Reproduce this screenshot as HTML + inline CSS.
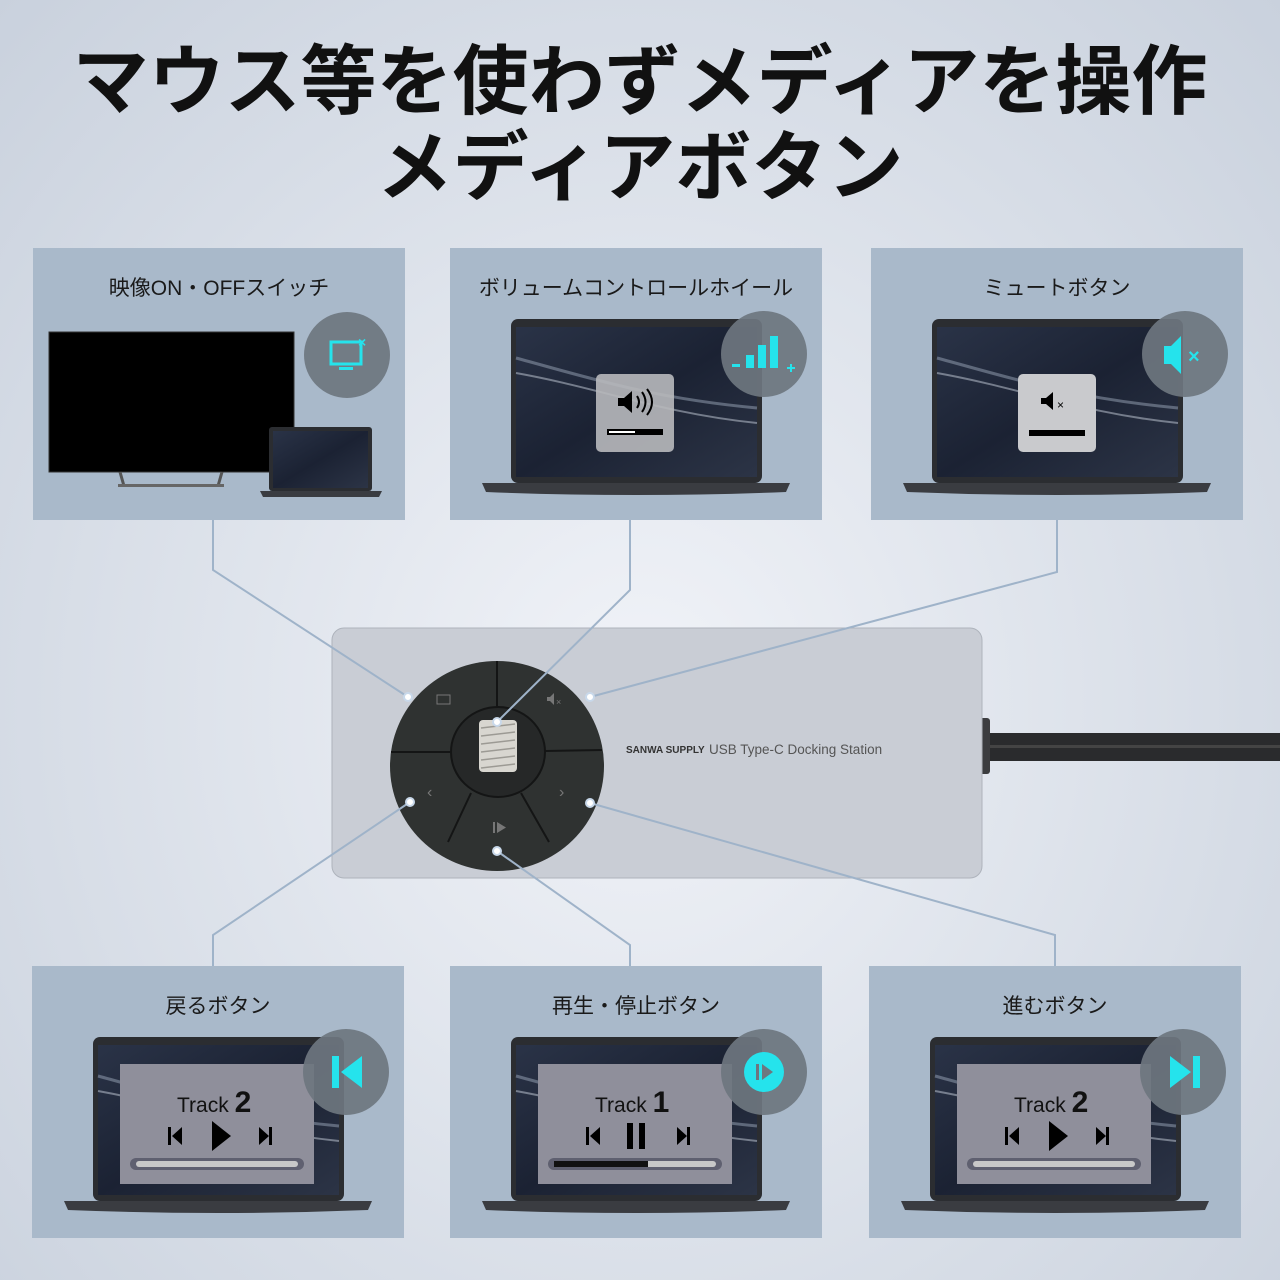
<!DOCTYPE html>
<html><head><meta charset="utf-8"><style>
html,body{margin:0;padding:0}
body{width:1280px;height:1280px;overflow:hidden;background:radial-gradient(ellipse at 50% 55%,#f1f3f8 0%,#dfe4ec 45%,#c9d1dd 100%);font-family:"Liberation Sans","Noto Sans CJK JP",sans-serif}
</style></head><body>
<svg width="1280" height="1280" viewBox="0 0 1280 1280" xmlns="http://www.w3.org/2000/svg" style="position:absolute;left:0;top:0">
<defs>
<linearGradient id="scr" x1="0" y1="0" x2="1" y2="1">
<stop offset="0" stop-color="#2a3347"/><stop offset="0.5" stop-color="#1b2233"/><stop offset="1" stop-color="#2c3446"/></linearGradient>
<g id="lap">
<rect x="61" y="71" width="251" height="164" rx="7" fill="#2b2d31"/>
<rect x="66" y="79" width="241" height="150" fill="url(#scr)"/>
<path d="M66 110 C140 130 200 150 307 160" stroke="#9aa6b8" stroke-width="3" fill="none" opacity="0.5"/>
<path d="M66 125 C150 140 210 165 307 175" stroke="#c8d0dc" stroke-width="2" fill="none" opacity="0.5"/>
<path d="M32 235 L340 235 L336 244 Q186 250 36 244 Z" fill="#3a3c41"/>
</g>
<g id="cir"><circle cx="314" cy="106" r="43" fill="#6e767f" opacity="0.92"/></g>
</defs>
<text x="640" y="108" text-anchor="middle" font-size="76" font-weight="bold" fill="#111">マウス等を使わずメディアを操作</text>
<text x="640" y="194" text-anchor="middle" font-size="76" font-weight="bold" fill="#111">メディアボタン</text>

<!-- panels -->
<g fill="#a9b9ca">
<rect x="33" y="248" width="372" height="272"/><rect x="450" y="248" width="372" height="272"/><rect x="871" y="248" width="372" height="272"/>
<rect x="32" y="966" width="372" height="272"/><rect x="450" y="966" width="372" height="272"/><rect x="869" y="966" width="372" height="272"/>
</g>
<g font-size="21" fill="#1a1a1a" text-anchor="middle">
<text x="219" y="295">映像ON・OFFスイッチ</text>
<text x="636" y="295">ボリュームコントロールホイール</text>
<text x="1057" y="295">ミュートボタン</text>
<text x="218" y="1013">戻るボタン</text>
<text x="636" y="1013">再生・停止ボタン</text>
<text x="1055" y="1013">進むボタン</text>
</g>

<!-- panel 1: TV -->
<rect x="49" y="332" width="245" height="140" fill="#000" stroke="#333"/>
<path d="M120 472 L124 486 M222 472 L218 486" stroke="#555" stroke-width="3"/>
<rect x="118" y="484" width="106" height="3" fill="#666"/>
<rect x="269" y="427" width="103" height="64" rx="3" fill="#2b2d31"/>
<rect x="273" y="431" width="95" height="57" fill="url(#scr)"/>
<path d="M260 491 L382 491 L379 497 L263 497Z" fill="#3a3c41"/>
<circle cx="347" cy="355" r="43" fill="#6e767f" opacity="0.92"/>
<rect x="331" y="342" width="30" height="22" fill="none" stroke="#25e3ec" stroke-width="3"/>
<rect x="339" y="367" width="14" height="3" fill="#25e3ec"/>
<text x="358" y="347" font-size="14" fill="#25e3ec" font-weight="bold">×</text>

<!-- panel 2 -->
<use href="#lap" x="450" y="248"/>
<rect x="596" y="374" width="78" height="78" rx="5" fill="#b8b9bd" opacity="0.9"/>
<path d="M618 398 h6 l8 -7 v22 l-8 -7 h-6z" fill="#000"/>
<path d="M637 396 q4 6 0 12 M642 392 q7 10 0 20 M647 389 q10 13 0 26" stroke="#000" stroke-width="2" fill="none"/>
<rect x="607" y="429" width="56" height="6" fill="#000"/><rect x="609" y="431" width="26" height="2" fill="#fff"/>
<use href="#cir" x="450" y="248"/>
<g fill="#25e3ec"><rect x="732" y="364" width="8" height="3"/><rect x="746" y="355" width="8" height="13"/><rect x="758" y="345" width="8" height="23"/><rect x="770" y="336" width="8" height="32"/><rect x="787" y="367" width="8" height="2"/><rect x="790" y="364" width="2" height="8"/></g>

<!-- panel 3 -->
<use href="#lap" x="871" y="248"/>
<rect x="1018" y="374" width="78" height="78" rx="5" fill="#c9cacd"/>
<path d="M1041 398 h5 l7 -6 v18 l-7 -6 h-5z" fill="#000"/>
<text x="1057" y="409" font-size="12" fill="#000">×</text>
<rect x="1029" y="430" width="56" height="6" fill="#000"/>
<use href="#cir" x="871" y="248"/>
<path d="M1164 346 h7 l10 -10 v38 l-10 -10 h-7z" fill="#25e3ec"/>
<text x="1188" y="363" font-size="20" fill="#25e3ec" font-weight="bold">×</text>

<!-- bottom panels -->
<use href="#lap" x="32" y="966"/>
<rect x="120" y="1064" width="194" height="120" fill="#8f8f9b"/>
<rect x="130" y="1158" width="174" height="12" rx="6" fill="#5f6070"/><rect x="136" y="1161" width="162" height="6" rx="3" fill="#c8c8c8"/>
<path d="M168 1127 v18 h3 v-18z M172 1136 l10 -9 v18z" fill="#000"/>
<path d="M212 1121 l19 15 l-19 15z" fill="#000"/>
<path d="M259 1127 l10 9 l-10 9z M269 1127 v18 h3 v-18z" fill="#000"/>
<text x="177" y="1112" font-size="21" fill="#111">Track <tspan font-size="30" font-weight="bold">2</tspan></text>
<use href="#cir" x="32" y="966"/>
<rect x="332" y="1056" width="7" height="32" fill="#25e3ec"/><path d="M362 1056 v32 l-21 -16z" fill="#25e3ec"/>

<use href="#lap" x="450" y="966"/>
<rect x="538" y="1064" width="194" height="120" fill="#8f8f9b"/>
<rect x="548" y="1158" width="174" height="12" rx="6" fill="#5f6070"/><rect x="554" y="1161" width="162" height="6" rx="3" fill="#c8c8c8"/><rect x="554" y="1161" width="94" height="6" fill="#111"/>
<path d="M586 1127 v18 h3 v-18z M590 1136 l10 -9 v18z" fill="#000"/>
<rect x="627" y="1123" width="6" height="26" fill="#000"/><rect x="639" y="1123" width="6" height="26" fill="#000"/>
<path d="M677 1127 l10 9 l-10 9z M687 1127 v18 h3 v-18z" fill="#000"/>
<text x="595" y="1112" font-size="21" fill="#111">Track <tspan font-size="30" font-weight="bold">1</tspan></text>
<use href="#cir" x="450" y="966"/>
<circle cx="764" cy="1072" r="20" fill="#25e3ec"/><rect x="756" y="1064" width="3" height="16" fill="#6e767f"/><path d="M762 1064 l11 8 l-11 8z" fill="#6e767f"/>

<use href="#lap" x="869" y="966"/>
<rect x="957" y="1064" width="194" height="120" fill="#8f8f9b"/>
<rect x="967" y="1158" width="174" height="12" rx="6" fill="#5f6070"/><rect x="973" y="1161" width="162" height="6" rx="3" fill="#c8c8c8"/>
<path d="M1005 1127 v18 h3 v-18z M1009 1136 l10 -9 v18z" fill="#000"/>
<path d="M1049 1121 l19 15 l-19 15z" fill="#000"/>
<path d="M1096 1127 l10 9 l-10 9z M1106 1127 v18 h3 v-18z" fill="#000"/>
<text x="1014" y="1112" font-size="21" fill="#111">Track <tspan font-size="30" font-weight="bold">2</tspan></text>
<use href="#cir" x="869" y="966"/>
<path d="M1170 1056 v32 l21 -16z" fill="#25e3ec"/><rect x="1193" y="1056" width="7" height="32" fill="#25e3ec"/>

<!-- cable -->
<rect x="975" y="733" width="310" height="28" fill="#2a2b2d"/>
<rect x="975" y="745" width="310" height="3" fill="#444"/>
<rect x="978" y="718" width="12" height="56" rx="3" fill="#3c3d40"/>
<!-- dock -->
<rect x="332" y="628" width="650" height="250" rx="12" fill="#c9cdd5" stroke="#aeb3bc"/>
<ellipse cx="497" cy="766" rx="107" ry="105" fill="#2f3231"/>
<g stroke="#141515" stroke-width="2" fill="none">
<line x1="497" y1="661" x2="497" y2="716"/>
<path d="M391 752 L450 752 M545 751 L602 750 M471 793 L448 842 M521 793 L549 842"/>
</g>
<ellipse cx="498" cy="752" rx="47" ry="45" fill="#262828" stroke="#141515" stroke-width="2"/>
<rect x="479" y="720" width="38" height="52" rx="4" fill="#d8d6d0"/>
<g stroke="#9c9a94" stroke-width="1.5"><line x1="481" y1="728" x2="515" y2="724"/><line x1="481" y1="736" x2="515" y2="732"/><line x1="481" y1="744" x2="515" y2="740"/><line x1="481" y1="752" x2="515" y2="748"/><line x1="481" y1="760" x2="515" y2="756"/><line x1="481" y1="768" x2="515" y2="764"/></g>
<g fill="#777"><rect x="437" y="695" width="13" height="9" fill="none" stroke="#777"/><path d="M547 697 h3 l4 -4 v12 l-4 -4 h-3z"/><text x="556" y="705" font-size="9">×</text>
<text x="427" y="797" font-size="16">‹</text><text x="559" y="797" font-size="16">›</text>
<rect x="493" y="822" width="2" height="11"/><path d="M497 822 l9 5.5 l-9 5.5z"/></g>
<text x="626" y="753" font-size="10" fill="#333" font-weight="bold">SANWA SUPPLY</text>
<text x="709" y="754" font-size="13.5" fill="#555">USB Type-C Docking Station</text>

<g stroke="#9fb3c9" stroke-width="2" fill="none">
<polyline points="213,520 213,570 408,697"/>
<polyline points="630,520 630,590 497,722"/>
<polyline points="1057,520 1057,572 590,697"/>
<polyline points="213,966 213,935 410,802"/>
<polyline points="630,966 630,945 497,851"/>
<polyline points="1055,966 1055,935 590,803"/>
</g>
<g fill="#fff" stroke="#c8d8ea" stroke-width="2"><circle cx="408" cy="697" r="4"/><circle cx="497" cy="722" r="4"/><circle cx="590" cy="697" r="4"/><circle cx="410" cy="802" r="4"/><circle cx="497" cy="851" r="4"/><circle cx="590" cy="803" r="4"/></g>
</svg>
</body></html>
